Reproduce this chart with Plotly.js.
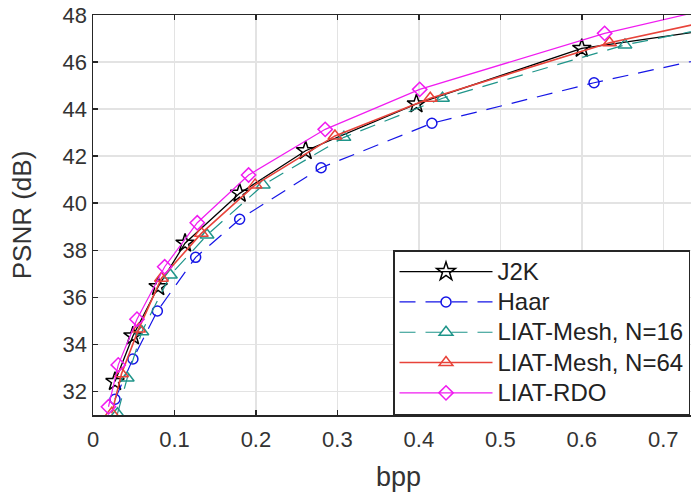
<!DOCTYPE html>
<html>
<head>
<meta charset="utf-8">
<script src="https://cdn.plot.ly/plotly-3.0.1.min.js"></script>
<style>
html,body{margin:0;padding:0;overflow:hidden;background:#fff;width:691px;height:497px;}
#chart{width:720px;height:497px;}
</style>
</head>
<body>
<div id="chart"></div>
<script>
// Data (bpp vs PSNR in dB)
var j2kX  = [0.027, 0.049, 0.080, 0.113, 0.180, 0.261, 0.397, 0.600, 0.800];
var j2kY  = [32.42, 34.36, 36.45, 38.30, 40.42, 42.23, 44.22, 46.58, 47.58];

var haarX = [0.027, 0.049, 0.079, 0.126, 0.180, 0.280, 0.416, 0.615, 0.850];
var haarY = [31.67, 33.38, 35.42, 37.70, 39.32, 41.51, 43.40, 45.12, 46.90];

var m16X  = [0.030, 0.042, 0.060, 0.095, 0.140, 0.209, 0.308, 0.429, 0.653, 0.850];
var m16Y  = [31.05, 32.57, 34.54, 36.95, 38.65, 40.78, 42.80, 44.46, 46.73, 48.09];

var m64X  = [0.023, 0.035, 0.056, 0.084, 0.133, 0.199, 0.297, 0.414, 0.634, 0.830];
var m64Y  = [31.07, 32.75, 34.65, 36.81, 38.72, 40.78, 42.86, 44.46, 46.82, 48.29];

var rdoX  = [0.019, 0.031, 0.054, 0.088, 0.128, 0.191, 0.285, 0.401, 0.628, 0.800];
var rdoY  = [31.35, 33.13, 35.07, 37.30, 39.17, 41.20, 43.14, 44.84, 47.22, 48.60];

var names = ["J2K", "Haar", "LIAT-Mesh, N=16", "LIAT-Mesh, N=64", "LIAT-RDO"];
var xTicks = [0, 0.1, 0.2, 0.3, 0.4, 0.5, 0.6, 0.7];
var yTicks = [32, 34, 36, 38, 40, 42, 44, 46, 48];

function legendName(s) { return '<span style="font-size:24px">' + s + '</span>'; }

var traces = [
  {x: j2kX, y: j2kY, name: legendName(names[0]), mode: "lines+markers",
   line: {color: "#000000", width: 1.3},
   marker: {symbol: "star-open", size: 14, color: "#000000", line: {width: 1.5, color: "#000000"}}},
  {x: haarX, y: haarY, name: legendName(names[1]), mode: "lines+markers",
   line: {color: "#1515e6", width: 1.2, dash: "16px,10px"},
   marker: {symbol: "circle-open", size: 10, color: "#1515e6", line: {width: 1.5, color: "#1515e6"}}},
  {x: m16X, y: m16Y, name: legendName(names[2]), mode: "lines+markers",
   line: {color: "#1f958a", width: 1.2, dash: "16px,10px"},
   marker: {symbol: "triangle-up-open", size: 12, color: "#1f958a", line: {width: 1.5, color: "#1f958a"}}},
  {x: m64X, y: m64Y, name: legendName(names[3]), mode: "lines+markers",
   line: {color: "#e8433a", width: 1.6},
   marker: {symbol: "triangle-up-open", size: 12, color: "#e8433a", line: {width: 1.5, color: "#e8433a"}}},
  {x: rdoX, y: rdoY, name: legendName(names[4]), mode: "lines+markers",
   line: {color: "#f01cf0", width: 1.2},
   marker: {symbol: "diamond-open", size: 11, color: "#f01cf0", line: {width: 1.5, color: "#f01cf0"}}}
];

var axisCommon = {
  showgrid: true, gridcolor: "#e3e3e3", gridwidth: 1.5,
  showline: true, linecolor: "#262626", linewidth: 1.5, mirror: "ticks",
  ticks: "inside", ticklen: 5, tickcolor: "#262626", tickwidth: 1.5,
  zeroline: false,
  tickfont: {family: "Liberation Sans, Arial, sans-serif", size: 22, color: "#333333"}
};

var layout = {
  width: 720, height: 497,
  margin: {l: 93, r: 16, t: 15, b: 82},
  paper_bgcolor: "#ffffff", plot_bgcolor: "#ffffff",
  font: {family: "Liberation Sans, Arial, sans-serif", color: "#333333"},
  xaxis: Object.assign({}, axisCommon, {
    range: [0, 0.75], tickvals: xTicks, ticktext: xTicks.map(String),
    automargin: false, ticklabelstandoff: 4,
    title: {text: "bpp", font: {size: 27, color: "#333333"}, standoff: 16}
  }),
  yaxis: Object.assign({}, axisCommon, {
    range: [31, 48], tickvals: yTicks, ticktext: yTicks.map(String),
    automargin: false,
    title: {text: "PSNR (dB)", font: {size: 26, color: "#333333"}, standoff: 23}
  }),
  showlegend: true,
  legend: {
    x: 0.491, y: 0, xanchor: "left", yanchor: "bottom",
    xref: "paper", yref: "paper",
    bgcolor: "#ffffff", bordercolor: "#262626", borderwidth: 1.5,
    font: {family: "Liberation Sans, Arial, sans-serif", size: 21, color: "#222222"},
    itemwidth: 93, tracegroupgap: 0
  }
};

Plotly.newPlot("chart", traces, layout, {displayModeBar: false, staticPlot: true});
</script>
</body>
</html>
